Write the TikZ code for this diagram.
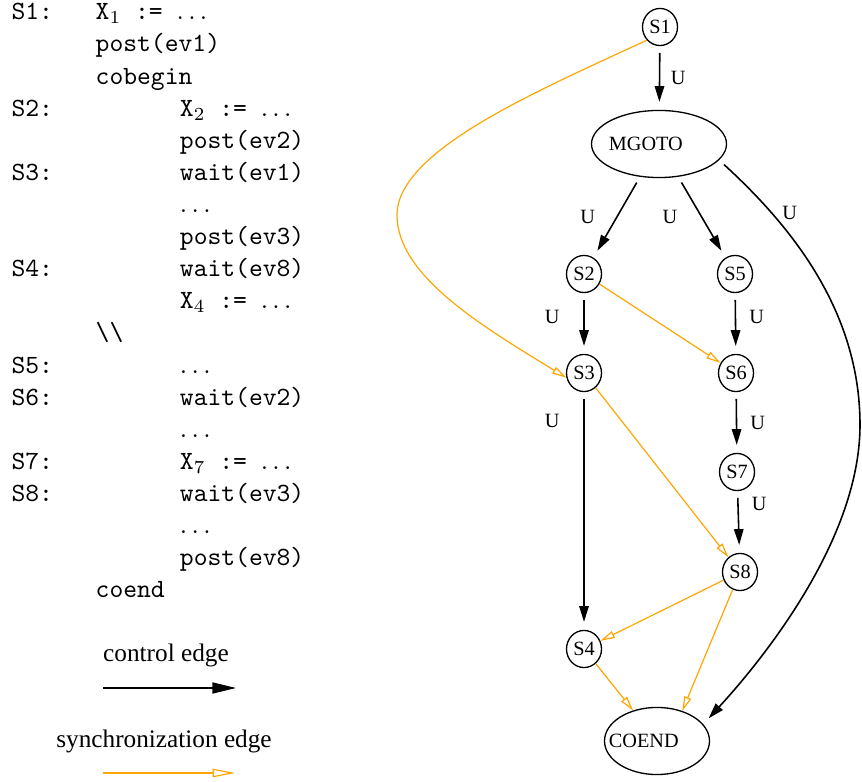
\documentclass[tikz,border=0pt]{standalone}
\usepackage{fontspec}
\setmainfont{Liberation Serif}
\usetikzlibrary{arrows.meta,positioning,shapes.geometric}
\definecolor{syncorange}{HTML}{FFA500}
\tikzset{
  >=Triangle,
  every node/.append style={font=\fontsize{7.7}{9}\selectfont},
}
\tikzset{
  stmt/.style={draw, ellipse, line width=0.5pt, inner sep=0pt, minimum width=13.3pt, minimum height=14.1pt},
  region/.style={draw, ellipse, line width=0.5pt, inner sep=0pt, minimum width=51.3pt, minimum height=25.5pt},
  ctrl/.style={-{Triangle[length=6pt,width=3.6pt]}, line width=0.6pt, shorten <=2.5pt, shorten >=3pt},
  sync/.style={-{Triangle[open,length=5.5pt,width=2.8pt]}, draw=syncorange, line width=0.45pt},
  elabel/.style={inner sep=1pt}
}
\newcommand{\lvlone}[2]{\makebox[32pt][l]{#1}#2}
\newcommand{\lvltwo}[2]{\makebox[32pt][l]{#1}\makebox[32pt][l]{}#2}
\newcommand{\offtext}[1]{\makebox[0pt]{#1\hspace*{10pt}}}

\begin{document}
\begin{tikzpicture}[x=0.38pt, y=-0.38pt,
  code/.style={font=\ttfamily\fontsize{10}{12.2}\selectfont, align=left, inner sep=0pt},
  legend/.style={font=\fontsize{9.6}{11}\selectfont}
]
\useasboundingbox (0,0) rectangle (862,782);

% program text
\node[code, anchor=north west] (prog) at (11,3) {%
\lvlone{S1:}{X$_1$ := $\ldots$}\\
\lvlone{}{post(ev1)}\\
\lvlone{}{cobegin}\\
\lvltwo{S2:}{X$_2$ := $\ldots$}\\
\lvltwo{}{post(ev2)}\\
\lvltwo{S3:}{wait(ev1)}\\
\lvltwo{}{$\ldots$}\\
\lvltwo{}{post(ev3)}\\
\lvltwo{S4:}{wait(ev8)}\\
\lvltwo{}{X$_4$ := $\ldots$}\\
\lvlone{}{\textbackslash\textbackslash}\\
\lvltwo{S5:}{$\ldots$}\\
\lvltwo{S6:}{wait(ev2)}\\
\lvltwo{}{$\ldots$}\\
\lvltwo{S7:}{X$_7$ := $\ldots$}\\
\lvltwo{S8:}{wait(ev3)}\\
\lvltwo{}{$\ldots$}\\
\lvltwo{}{post(ev8)}\\
\lvlone{}{coend}};

% graph nodes
\node[stmt] (s1) at (660,27) {S1};
\node[region] (mgoto) at (659,144) {\offtext{MGOTO}};
\node[stmt] (s2) at (584,274) {S2};
\node[stmt] (s5) at (735,274) {S5};
\node[stmt] (s3) at (584,373) {S3};
\node[stmt] (s6) at (736,373) {S6};
\node[stmt] (s7) at (737,472) {S7};
\node[stmt] (s8) at (740,572) {S8};
\node[stmt] (s4) at (584,649) {S4};
\node[region, minimum width=39.9pt] (coend) at (657,741) {\offtext{COEND}};

\coordinate (bendL) at (397,215);
\coordinate (bendR) at (860,425);

% control edges
\draw[ctrl] (s1) -- node[elabel, right=3pt] {U} (mgoto);
\draw[ctrl] (mgoto) -- node[elabel, left=7pt] {U} (s2);
\draw[ctrl] (mgoto) -- node[elabel, left=8pt] {U} (s5);
\draw[ctrl] (mgoto.-15) .. controls (790,225) and (860,310) .. (bendR)
  node[elabel, pos=.25, right=3pt] {U}
  .. controls (860,545) and (753,670) .. (coend.20);
\draw[ctrl] (s2) -- node[elabel, pos=.4, left=8pt] {U} (s3);
\draw[ctrl] (s5) -- node[elabel, pos=.4, right=4pt] {U} (s6);
\draw[ctrl] (s3) -- node[elabel, pos=.12, left=8pt] {U} (s4);
\draw[ctrl] (s6) -- node[elabel, right=4pt] {U} (s7);
\draw[ctrl] (s7) -- node[elabel, pos=.2, right=4pt] {U} (s8);

% synchronization edges
\draw[sync] (s1.225) .. controls (540,90) and (397,150) .. (bendL)
  .. controls (397,275) and (480,325) .. (s3.195);
\draw[sync] (s2) -- (s6);
\draw[sync] (s3) -- (s8);
\draw[sync] (s8) -- (s4);
\draw[sync] (s8) -- (coend.50);
\draw[sync] (s4) -- (coend.128);

% legend
\node[legend] (ctrltext) at (166,655) {control edge};
\coordinate (ctrlA) at (103,688);
\coordinate (ctrlB) at (236,688);
\draw[ctrl, shorten <=0pt, shorten >=0pt, -{Triangle[length=9pt,width=4.2pt]}] (ctrlA) -- (ctrlB);
\node[legend] (synctext) at (164,741) {synchronization edge};
\coordinate (syncA) at (103,773);
\coordinate (syncB) at (235,773);
\draw[sync, -{Triangle[open,length=8.5pt,width=3.2pt]}] (syncA) -- (syncB);
\end{tikzpicture}
\end{document}
